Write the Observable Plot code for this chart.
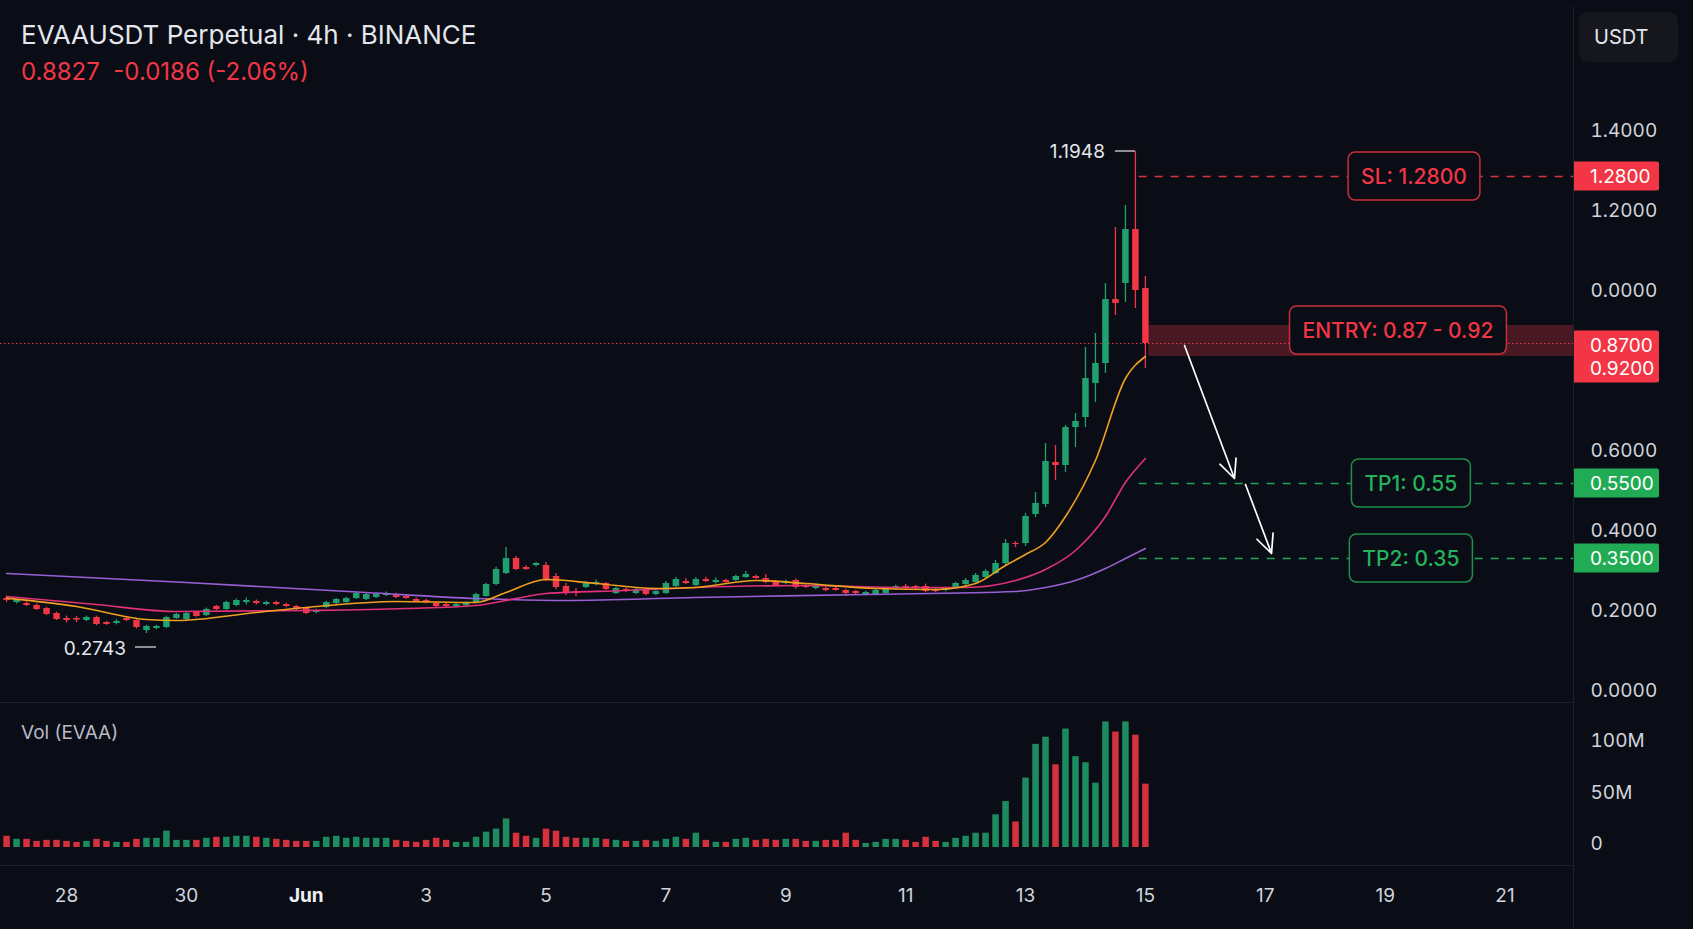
<!DOCTYPE html>
<html><head><meta charset="utf-8">
<script src="https://cdn.jsdelivr.net/npm/d3@7"></script>
<script src="https://cdn.jsdelivr.net/npm/@observablehq/plot@0.6"></script>
<style>
html,body{margin:0;padding:0;background:#0a0d16;}
body{width:1693px;height:929px;position:relative;overflow:hidden;font-family:Inter,"Noto Sans",sans-serif;}
.abs{position:absolute;}
.sep{position:absolute;background:#1b202d;}
</style></head><body>
<div id="price" class="abs" style="left:0;top:0"></div>
<div id="vol" class="abs" style="left:0;top:702px"></div>
<div id="xax" class="abs" style="left:0;top:865px"></div>
<div class="sep" style="left:0;top:702px;width:1573px;height:1px"></div>
<div class="sep" style="left:0;top:865px;width:1573px;height:1px"></div>
<div class="sep" style="left:1573px;top:6px;width:1px;height:923px"></div>
<div class="abs" style="left:21px;top:19px;color:#e4e6ec;font-size:26px;line-height:32px;white-space:pre">EVAAUSDT Perpetual · 4h · BINANCE</div>
<div class="abs" style="left:21px;top:57px;color:#f23645;font-size:24px;line-height:30px;white-space:pre">0.8827  -0.0186 (-2.06%)</div>
<div class="abs" style="left:21px;top:721px;color:#b8bbc4;font-size:19px;line-height:24px;white-space:pre">Vol (EVAA)</div>
<div class="abs" style="left:1579px;top:12px;width:99px;height:50px;border-radius:9px;background:#15171d;color:#e4e6ec;font-size:20px;line-height:50px;box-sizing:border-box;padding-left:15px">USDT</div>
<script>
// ---------- data (4h candles) ----------
const candleStart = "2025-05-27T00:00:00Z";
const candleOpen = [
 .230,.220,.2175,.2125,.205,.1925,.180,.180,.175,.1825,
 .170,.1675,.180,.175,.150,.155,.1575,.180,.1775,.195,
 .1875,.210,.2025,.2125,.220,.2225,.215,.220,.215,.210,
 .205,.195,.2075,.2175,.220,.230,.2275,.2325,.2375,.240,
 .235,.2275,.225,.2175,.215,.210,.2125,.220,.235,.265,
 .2925,.330,.3075,.3125,.3125,.285,.260,.2475,.2575,.265,
 .2675,.2425,.2525,.2425,.250,.240,.2425,.260,.2725,.2625,
 .2775,.270,.275,.275,.2825,.285,.280,.2725,.2675,.275,
 .2625,.255,.255,.255,.250,.2475,.240,.240,.2425,.255,
 .260,.260,.260,.2525,.250,.2575,.265,.270,.2825,.2925,
 .3175,.3675,.3675,.440,.465,.570,.5625,.6575,.6825,.7675,
 .8175,.9775,1.0175,1.1525,1.005];
const candleHigh = [
 .236,.228,.222,.216,.208,.196,.186,.185,.186,.186,
 .173,.177,.183,.178,.163,.163,.186,.193,.195,.198,
 .206,.213,.223,.229,.231,.226,.223,.223,.218,.213,
 .208,.203,.223,.230,.233,.246,.243,.243,.246,.243,
 .238,.231,.228,.221,.218,.218,.221,.243,.268,.308,
 .3575,.335,.312,.320,.320,.2925,.2675,.255,.2725,.276,
 .270,.258,.256,.256,.253,.250,.2725,.2825,.280,.2825,
 .283,.281,.278,.288,.2975,.288,.290,.275,.276,.279,
 .266,.263,.258,.258,.253,.250,.248,.253,.258,.263,
 .265,.263,.266,.256,.258,.271,.280,.2925,.3025,.325,
 .3775,.3725,.4425,.495,.6175,.6125,.6625,.6925,.8575,.8925,
 1.0175,1.1575,1.2125,1.3475,1.035];
const candleLow = [
 .220,.216,.210,.200,.187,.175,.169,.170,.172,.162,
 .163,.164,.172,.154,.1425,.152,.155,.178,.175,.183,
 .185,.200,.200,.210,.214,.214,.212,.212,.207,.200,
 .190,.192,.205,.215,.218,.228,.225,.230,.235,.230,
 .228,.220,.217,.207,.207,.207,.210,.218,.233,.262,
 .290,.300,.300,.309,.272,.252,.2375,.235,.255,.262,
 .250,.240,.245,.240,.237,.237,.240,.257,.265,.260,
 .270,.266,.268,.273,.280,.278,.267,.260,.265,.254,
 .255,.252,.247,.248,.235,.240,.237,.237,.240,.252,
 .252,.252,.245,.245,.247,.255,.262,.268,.280,.290,
 .3125,.3575,.360,.4325,.4575,.525,.545,.6075,.6575,.720,
 .7925,.9375,.970,.955,.805];
const candleClose = [
 .225,.225,.2125,.2025,.190,.1775,.175,.176,.1825,.165,
 .165,.1725,.175,.1575,.160,.160,.1825,.190,.1925,.185,
 .2025,.2025,.220,.225,.225,.2175,.220,.215,.210,.2025,
 .1925,.200,.220,.2275,.230,.2425,.240,.240,.2425,.2325,
 .230,.2225,.220,.210,.210,.215,.2175,.240,.265,.3025,
 .330,.3025,.3025,.3175,.2775,.2575,.2425,.2425,.270,.270,
 .2525,.255,.2475,.2525,.240,.2475,.2675,.2775,.2675,.2775,
 .2725,.275,.270,.285,.290,.280,.270,.2625,.2725,.2575,
 .2575,.260,.250,.250,.2425,.2425,.245,.250,.255,.260,
 .255,.255,.2475,.2475,.255,.2675,.275,.2875,.2975,.3175,
 .3675,.365,.435,.4675,.5725,.5625,.6575,.6725,.780,.8175,
 .9775,.9675,1.1525,1.000,.8675];
const volumeM = [
 11,8,8,6,7,7,6,5,6,8,
 6,5,5,8,9,9,16,7,7,7,
 9,10,10,11,11,10,9,8,7,6,
 6,6,10,11,9,10,9,9,9,7,
 6,5,7,9,7,5,5,10,15,18,
 28,14,11,9,18,16,10,9,9,9,
 8,7,6,6,7,6,8,10,8,14,
 7,5,5,8,9,7,8,7,8,8,
 6,6,7,7,14,7,4,5,8,8,
 7,5,10,6,5,9,11,14,14,32,
 45,25,68,101,108,81,116,89,83,63,
 123,113,123,110,62];

// moving averages (candle index, value)
const maFastIdx = [0,7,14,17,25,30,39,47,50,54,59,65,69,75,80,87,93,97,100,102,104,106,109,112,114];
const maFast    = [.231,.21,.1775,.175,.195,.2075,.2225,.22,.245,.2775,.2675,.255,.2575,.275,.2675,.255,.2525,.2675,.3125,.34,.37,.435,.575,.78,.835];
const maMidIdx  = [0,9,17,30,40,47,51,54,62,69,80,90,96,101,104,107,110,112,114];
const maMid     = [.235,.215,.1975,.2,.205,.2125,.23,.2425,.25,.2575,.2625,.2575,.2575,.275,.3025,.35,.435,.52,.58];
const maSlowIdx = [0,18,36,47,56,69,86,101,104,107,110,112,114];
const maSlow    = [.2925,.27,.245,.23,.225,.2325,.24,.2475,.2575,.275,.305,.33,.355];

// trade plan: label texts, and where each level sits on the price axis of the picture
const planText = {sl: "SL: 1.2800", entry: "ENTRY: 0.87 - 0.92", tp1: "TP1: 0.55", tp2: "TP2: 0.35"};
const tagText  = {sl: ["1.2800"], entry: ["0.8700", "0.9200"], tp1: ["0.5500"], tp2: ["0.3500"]};
const slAt = 1.285, tp1At = 0.5175, tp2At = 0.33;
const zoneTop = 0.9125, zoneBottom = 0.835, entryBoxAt = 0.90, entryTagAt = 0.8625;
const levelsFrom = "2025-06-14T21:30:00Z";
const zoneFrom = "2025-06-15T01:15:00Z";
const boxTimeSL = "2025-06-19T11:45:00Z", boxTimeEntry = "2025-06-19T05:20:00Z", boxTimeTP = "2025-06-19T10:30:00Z";
const arrowX1 = ["2025-06-15T15:40:00Z","2025-06-16T16:05:00Z"];
const arrowY1 = [0.8625, 0.515];
const arrowX2 = ["2025-06-16T11:40:00Z","2025-06-17T02:30:00Z"];
const arrowY2 = [0.53, 0.3425];
const highLabel = "1.1948", lowLabel = "0.2743";

// axes
const yTickValues = [0, 0.2, 0.4, 0.6, 1.0, 1.2, 1.4];
const yTickLabels = ["0.0000","0.2000","0.4000","0.6000","0.0000","1.2000","1.4000"];
const volTickValues = [0, 50, 100];
const volTickLabels = ["0","50M","100M"];
const xTickDates = ["2025-05-28","2025-05-30","2025-06-01","2025-06-03","2025-06-05","2025-06-07","2025-06-09","2025-06-11","2025-06-13","2025-06-15","2025-06-17","2025-06-19","2025-06-21"];
const xTickLabels = ["28","30","Jun","3","5","7","9","11","13","15","17","19","21"];
const xDomain = [new Date("2025-05-26T21:34:00Z"), new Date("2025-06-22T03:25:00Z")];

// ---------- build ----------
const FONT = "Inter, 'Noto Sans', sans-serif";
const GREEN = "#20a06e", RED = "#f23645", VGREEN = "#1c8c60", VRED = "#d5313d";
const BG = "#0a0d16";
const t0 = new Date(candleStart);
const candles = candleOpen.map((o, i) => ({
  date: d3.utcHour.offset(t0, 4 * i), open: o, high: candleHigh[i], low: candleLow[i],
  close: candleClose[i], vol: volumeM[i]
}));
const up = d => d.close >= d.open;
const maPts = (idx, vals) => idx.map((k, j) => ({date: candles[k].date, v: vals[j]}));
const levels = [
  {value: slAt, color: "#e0323f"},
  {value: tp1At, color: "#22a658"},
  {value: tp2At, color: "#22a658"}
];
const arrows = arrowX1.map((x, i) => ({x1: new Date(x), y1: arrowY1[i], x2: new Date(arrowX2[i]), y2: arrowY2[i]}));
const lastClose = candleClose[candleClose.length - 1];
const W = 1693, MR = 120, AX = W - MR;
const baseStyle = {background: "transparent", color: "#d1d4dc", fontFamily: FONT, fontSize: "19px", overflow: "visible"};

const price = Plot.plot({
  width: W, height: 702, marginLeft: 0, marginRight: MR, marginTop: 0, marginBottom: 0,
  style: baseStyle,
  x: {type: "utc", domain: xDomain, axis: null},
  y: {domain: [-0.03, 1.725], axis: null},
  color: {type: "identity"},
  marks: [
    Plot.rect([0], {x1: () => new Date(zoneFrom), x2: () => xDomain[1], y1: () => zoneBottom, y2: () => zoneTop, fill: RED, fillOpacity: 0.27}),
    Plot.ruleY([lastClose], {y: d => d, stroke: RED, strokeWidth: 1, strokeDasharray: "1.5,2.5"}),
    Plot.ruleY(levels, {y: "value", x1: () => new Date(levelsFrom), x2: () => xDomain[1], stroke: "color", strokeWidth: 1.5, strokeDasharray: "8,8"}),
    Plot.ruleX(candles, {x: "date", y1: "low", y2: "high", stroke: d => up(d) ? GREEN : RED, strokeWidth: 1.3}),
    Plot.ruleX(candles, {x: "date", y1: "open", y2: "close", stroke: d => up(d) ? GREEN : RED, strokeWidth: 6.5}),
    Plot.line(maPts(maSlowIdx, maSlow), {x: "date", y: "v", stroke: "#9a5fd4", strokeWidth: 1.6, curve: "monotone-x"}),
    Plot.line(maPts(maMidIdx, maMid), {x: "date", y: "v", stroke: "#e2317a", strokeWidth: 1.6, curve: "monotone-x"}),
    Plot.line(maPts(maFastIdx, maFast), {x: "date", y: "v", stroke: "#f0a020", strokeWidth: 1.6, curve: "monotone-x"}),
    Plot.arrow(arrows, {x1: "x1", y1: "y1", x2: "x2", y2: "y2", stroke: "#ffffff", strokeWidth: 1.7, headLength: 18, headAngle: 50}),
    Plot.axisY(yTickValues, {anchor: "right", label: null, tickSize: 0, tickPadding: 17, tickFormat: d => yTickLabels[yTickValues.indexOf(d)], fill: "#d1d4dc"})
  ]
});
document.getElementById("price").appendChild(price);

const vol = Plot.plot({
  width: W, height: 163, marginLeft: 0, marginRight: MR, marginTop: 0, marginBottom: 18,
  style: baseStyle,
  x: {type: "utc", domain: xDomain, axis: null},
  y: {domain: [0, 142], axis: null},
  color: {type: "identity"},
  marks: [
    Plot.ruleX(candles, {x: "date", y1: () => 0, y2: "vol", stroke: d => up(d) ? VGREEN : VRED, strokeWidth: 6.5}),
    Plot.axisY(volTickValues, {anchor: "right", label: null, tickSize: 0, tickPadding: 17, dy: -4, tickFormat: d => volTickLabels[volTickValues.indexOf(d)], fill: "#d1d4dc"})
  ]
});
document.getElementById("vol").appendChild(vol);

const xax = Plot.plot({
  width: W, height: 60, marginLeft: 0, marginRight: MR, marginTop: 0, marginBottom: 0,
  style: baseStyle,
  x: {type: "utc", domain: xDomain, axis: null},
  marks: [
    Plot.text(xTickDates.map(d => new Date(d + "T00:00:00Z")), {x: d => d, text: (d, i) => xTickLabels[i], frameAnchor: "middle", fill: "#d1d4dc", fontSize: 19})
  ]
});
document.getElementById("xax").appendChild(xax);
d3.select(xax).selectAll("text").filter(function() { return this.textContent === "Jun"; }).attr("font-weight", 700).attr("fill", "#eef0f4");

// ---------- annotations positioned through the plot's scales ----------
const sx = price.scale("x"), sy = price.scale("y");
const g = d3.select(price).append("g").attr("font-family", FONT).attr("text-anchor", "start");

const hi = candles[d3.maxIndex(candles, d => d.high)];
const lo = candles[d3.minIndex(candles, d => d.low)];
{
  const x = sx.apply(hi.date), y = sy.apply(hi.high);
  g.append("line").attr("x1", x - 20).attr("x2", x).attr("y1", y).attr("y2", y).attr("stroke", "#e4e6ec").attr("stroke-width", 1.2);
  g.append("text").attr("x", x - 30).attr("y", y).attr("text-anchor", "end").attr("dominant-baseline", "central").attr("fill", "#e4e6ec").attr("font-size", 19).text(highLabel);
}
{
  const x = sx.apply(lo.date), y = sy.apply(lo.low) + 14;
  g.append("line").attr("x1", x - 11).attr("x2", x + 10).attr("y1", y).attr("y2", y).attr("stroke", "#e4e6ec").attr("stroke-width", 1.2);
  g.append("text").attr("x", x - 20).attr("y", y + 1).attr("text-anchor", "end").attr("dominant-baseline", "central").attr("fill", "#e4e6ec").attr("font-size", 19).text(lowLabel);
}

function labelBox(t, value, text, color, border) {
  const cx = sx.apply(new Date(t)), cy = sy.apply(value);
  const grp = g.append("g");
  const tx = grp.append("text").attr("x", cx).attr("y", cy).attr("text-anchor", "middle").attr("dominant-baseline", "central")
    .attr("fill", color).attr("font-size", 21).attr("font-weight", 500).text(text);
  const bb = tx.node().getBBox();
  grp.insert("rect", "text").attr("x", bb.x - 13).attr("y", cy - 24).attr("width", bb.width + 26).attr("height", 48)
    .attr("rx", 7).attr("fill", BG).attr("stroke", border).attr("stroke-width", 1.5);
}
labelBox(boxTimeSL, slAt, planText.sl, "#f23645", "#c92f3b");
labelBox(boxTimeEntry, entryBoxAt, planText.entry, "#f23645", "#c92f3b");
labelBox(boxTimeTP, tp1At, planText.tp1, "#24b35c", "#1f8f4c");
labelBox(boxTimeTP, tp2At, planText.tp2, "#24b35c", "#1f8f4c");

function priceTag(value, lines, fill) {
  const yc = sy.apply(value);
  const h = 29 + (lines.length - 1) * 23;
  g.append("rect").attr("x", AX).attr("y", yc - 14.5).attr("width", 86).attr("height", h).attr("rx", 2).attr("fill", fill);
  lines.forEach((s, i) => g.append("text").attr("x", AX + 17).attr("y", yc + i * 23).attr("text-anchor", "start").attr("dominant-baseline", "central")
    .attr("fill", "#ffffff").attr("font-size", 19).text(s));
}
priceTag(slAt, tagText.sl, "#f23645");
priceTag(entryTagAt, tagText.entry, "#f23645");
priceTag(tp1At, tagText.tp1, "#22ab55");
priceTag(tp2At, tagText.tp2, "#22ab55");
</script>
</body></html>
